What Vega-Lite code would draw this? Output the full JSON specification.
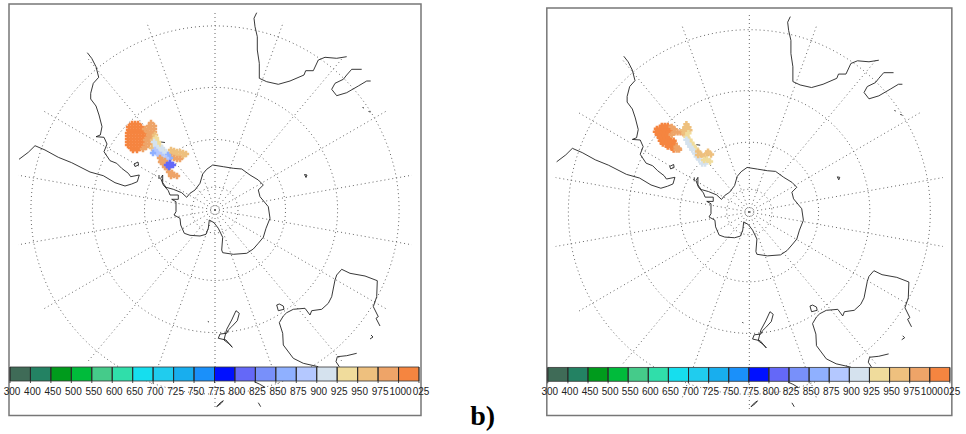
{"$schema":"https://vega.github.io/schema/vega-lite/v6.json","padding":0,"spacing":0,"background":"white","config":{"view":{"stroke":null},"axis":{"disable":true},"concat":{"spacing":0}},
"datasets":{
"frame":[{"x":-206,"x2":206,"y":206,"y2":-205.5}],
"caption":[{"x":-284,"y":-215,"label":"b)"}],
"rings":[
{"lat":-80,"x":0,"y":23},{"lat":-80,"x":7.87,"y":21.62},{"lat":-80,"x":14.79,"y":17.62},{"lat":-80,"x":19.92,"y":11.5},{"lat":-80,"x":22.66,"y":4},{"lat":-80,"x":22.66,"y":-4},{"lat":-80,"x":19.92,"y":-11.5},{"lat":-80,"x":14.79,"y":-17.62},{"lat":-80,"x":7.87,"y":-21.62},{"lat":-80,"x":0,"y":-23},{"lat":-80,"x":-7.87,"y":-21.62},{"lat":-80,"x":-14.79,"y":-17.62},{"lat":-80,"x":-19.92,"y":-11.5},{"lat":-80,"x":-22.66,"y":-4},{"lat":-80,"x":-22.66,"y":4},{"lat":-80,"x":-19.92,"y":11.5},{"lat":-80,"x":-14.79,"y":17.62},{"lat":-80,"x":-7.87,"y":21.62},
{"lat":-60,"x":0,"y":70.5},{"lat":-60,"x":24.11,"y":66.27},{"lat":-60,"x":45.33,"y":54},{"lat":-60,"x":61.05,"y":35.25},{"lat":-60,"x":69.44,"y":12.27},{"lat":-60,"x":69.44,"y":-12.27},{"lat":-60,"x":61.05,"y":-35.25},{"lat":-60,"x":45.33,"y":-54},{"lat":-60,"x":24.11,"y":-66.27},{"lat":-60,"x":0,"y":-70.5},{"lat":-60,"x":-24.11,"y":-66.27},{"lat":-60,"x":-45.33,"y":-54},{"lat":-60,"x":-61.05,"y":-35.25},{"lat":-60,"x":-69.44,"y":-12.27},{"lat":-60,"x":-69.44,"y":12.27},{"lat":-60,"x":-61.05,"y":35.25},{"lat":-60,"x":-45.33,"y":54},{"lat":-60,"x":-24.11,"y":66.27},
{"lat":-40,"x":0,"y":122.6},{"lat":-40,"x":41.93,"y":115.24},{"lat":-40,"x":78.83,"y":93.91},{"lat":-40,"x":106.17,"y":61.3},{"lat":-40,"x":120.76,"y":21.33},{"lat":-40,"x":120.76,"y":-21.33},{"lat":-40,"x":106.17,"y":-61.3},{"lat":-40,"x":78.83,"y":-93.91},{"lat":-40,"x":41.93,"y":-115.24},{"lat":-40,"x":0,"y":-122.6},{"lat":-40,"x":-41.93,"y":-115.24},{"lat":-40,"x":-78.83,"y":-93.91},{"lat":-40,"x":-106.17,"y":-61.3},{"lat":-40,"x":-120.76,"y":-21.33},{"lat":-40,"x":-120.76,"y":21.33},{"lat":-40,"x":-106.17,"y":61.3},{"lat":-40,"x":-78.83,"y":93.91},{"lat":-40,"x":-41.93,"y":115.24},
{"lat":-20,"x":0,"y":184.1},{"lat":-20,"x":62.96,"y":173.05},{"lat":-20,"x":118.38,"y":141.02},{"lat":-20,"x":159.43,"y":92.05},{"lat":-20,"x":181.34,"y":32.03},{"lat":-20,"x":181.34,"y":-32.03},{"lat":-20,"x":159.43,"y":-92.05},{"lat":-20,"x":118.38,"y":-141.02},{"lat":-20,"x":62.96,"y":-173.05},{"lat":-20,"x":0,"y":-184.1},{"lat":-20,"x":-62.96,"y":-173.05},{"lat":-20,"x":-118.38,"y":-141.02},{"lat":-20,"x":-159.43,"y":-92.05},{"lat":-20,"x":-181.34,"y":-32.03},{"lat":-20,"x":-181.34,"y":32.03},{"lat":-20,"x":-159.43,"y":92.05},{"lat":-20,"x":-118.38,"y":141.02},{"lat":-20,"x":-62.96,"y":173.05}
],
"meridians":[
{"lon":0,"x":0,"y":0},{"lon":0,"x":0,"y":200},{"lon":20,"x":0,"y":0},{"lon":20,"x":68.4,"y":188},{"lon":40,"x":0,"y":0},{"lon":40,"x":128.6,"y":153.2},{"lon":60,"x":0,"y":0},{"lon":60,"x":173.2,"y":100},{"lon":80,"x":0,"y":0},{"lon":80,"x":197,"y":34.8},{"lon":100,"x":0,"y":0},{"lon":100,"x":197,"y":-34.8},{"lon":120,"x":0,"y":0},{"lon":120,"x":173.2,"y":-100},{"lon":140,"x":0,"y":0},{"lon":140,"x":128.6,"y":-153.2},{"lon":160,"x":0,"y":0},{"lon":160,"x":68.4,"y":-188},{"lon":180,"x":0,"y":0},{"lon":180,"x":0,"y":-200},{"lon":-160,"x":0,"y":0},{"lon":-160,"x":-68.4,"y":-188},{"lon":-140,"x":0,"y":0},{"lon":-140,"x":-128.6,"y":-153.2},{"lon":-120,"x":0,"y":0},{"lon":-120,"x":-173.2,"y":-100},{"lon":-100,"x":0,"y":0},{"lon":-100,"x":-197,"y":-34.8},{"lon":-80,"x":0,"y":0},{"lon":-80,"x":-197,"y":34.8},{"lon":-60,"x":0,"y":0},{"lon":-60,"x":-173.2,"y":100},{"lon":-40,"x":0,"y":0},{"lon":-40,"x":-128.6,"y":153.2},{"lon":-20,"x":0,"y":0},{"lon":-20,"x":-68.4,"y":188}
],
"bins":[{"bin":"300","x":-205,"x2":-184.55,"y":-157,"y2":-171},{"bin":"400","x":-184.55,"x2":-164.1,"y":-157,"y2":-171},{"bin":"450","x":-164.1,"x2":-143.65,"y":-157,"y2":-171},{"bin":"500","x":-143.65,"x2":-123.2,"y":-157,"y2":-171},{"bin":"550","x":-123.2,"x2":-102.75,"y":-157,"y2":-171},{"bin":"600","x":-102.75,"x2":-82.3,"y":-157,"y2":-171},{"bin":"650","x":-82.3,"x2":-61.85,"y":-157,"y2":-171},{"bin":"700","x":-61.85,"x2":-41.4,"y":-157,"y2":-171},{"bin":"725","x":-41.4,"x2":-20.95,"y":-157,"y2":-171},{"bin":"750","x":-20.95,"x2":-0.5,"y":-157,"y2":-171},{"bin":"775","x":-0.5,"x2":19.95,"y":-157,"y2":-171},{"bin":"800","x":19.95,"x2":40.4,"y":-157,"y2":-171},{"bin":"825","x":40.4,"x2":60.85,"y":-157,"y2":-171},{"bin":"850","x":60.85,"x2":81.3,"y":-157,"y2":-171},{"bin":"875","x":81.3,"x2":101.75,"y":-157,"y2":-171},{"bin":"900","x":101.75,"x2":122.2,"y":-157,"y2":-171},{"bin":"925","x":122.2,"x2":142.65,"y":-157,"y2":-171},{"bin":"950","x":142.65,"x2":163.1,"y":-157,"y2":-171},{"bin":"975","x":163.1,"x2":183.55,"y":-157,"y2":-171},{"bin":"1000","x":183.55,"x2":204,"y":-157,"y2":-171}],
"ticks":[{"label":"300","x":-205,"y":-157,"y2":-173},{"label":"400","x":-184.55,"y":-157,"y2":-173},{"label":"450","x":-164.1,"y":-157,"y2":-173},{"label":"500","x":-143.65,"y":-157,"y2":-173},{"label":"550","x":-123.2,"y":-157,"y2":-173},{"label":"600","x":-102.75,"y":-157,"y2":-173},{"label":"650","x":-82.3,"y":-157,"y2":-173},{"label":"700","x":-61.85,"y":-157,"y2":-173},{"label":"725","x":-41.4,"y":-157,"y2":-173},{"label":"750","x":-20.95,"y":-157,"y2":-173},{"label":"775","x":-0.5,"y":-157,"y2":-173},{"label":"800","x":19.95,"y":-157,"y2":-173},{"label":"825","x":40.4,"y":-157,"y2":-173},{"label":"850","x":60.85,"y":-157,"y2":-173},{"label":"875","x":81.3,"y":-157,"y2":-173},{"label":"900","x":101.75,"y":-157,"y2":-173},{"label":"925","x":122.2,"y":-157,"y2":-173},{"label":"950","x":142.65,"y":-157,"y2":-173},{"label":"975","x":163.1,"y":-157,"y2":-173},{"label":"1000","x":183.55,"y":-157,"y2":-173},{"label":"025","x":204,"y":-157,"y2":-173}],
"coast":[
{"part":"sam","x":-127.7,"y":157.3},{"part":"sam","x":-123.3,"y":151.7},{"part":"sam","x":-119,"y":143.3},{"part":"sam","x":-116.3,"y":132.7},{"part":"sam","x":-121.7,"y":126.7},{"part":"sam","x":-124.3,"y":116.7},{"part":"sam","x":-124.3,"y":111},{"part":"sam","x":-119,"y":104},{"part":"sam","x":-116,"y":95},{"part":"sam","x":-113,"y":83.3},{"part":"sam","x":-114.7,"y":75},{"part":"sam","x":-119,"y":73.3},{"part":"sam","x":-111,"y":72.7},{"part":"sam","x":-108,"y":66},{"part":"sam","x":-111,"y":58.3},{"part":"sam","x":-105,"y":49.3},{"part":"sam","x":-98.3,"y":46.7},{"part":"sam","x":-93.3,"y":41.7},{"part":"sam","x":-86.7,"y":36.7},{"part":"sam","x":-84.3,"y":33.3},{"part":"sam","x":-75.7,"y":35},{"part":"sam","x":-77.7,"y":28.3},{"part":"sam","x":-83.3,"y":26},{"part":"sam","x":-90,"y":24},{"part":"sam","x":-100,"y":27.3},{"part":"sam","x":-111.7,"y":34.3},{"part":"sam","x":-125,"y":38},{"part":"sam","x":-143.3,"y":47.3},{"part":"sam","x":-156.7,"y":52.7},{"part":"sam","x":-170,"y":60},{"part":"sam","x":-180,"y":64.3},{"part":"sam","x":-186.7,"y":57.7},{"part":"sam","x":-196,"y":50.7},
{"part":"falk","x":-81,"y":46},{"part":"falk","x":-77,"y":48},{"part":"falk","x":-76.5,"y":45},{"part":"falk","x":-80,"y":43.5},{"part":"falk","x":-81,"y":46},
{"part":"geo","x":-54,"y":68},{"part":"geo","x":-50,"y":67.5},
{"part":"kerg","x":89.5,"y":35.5},{"part":"kerg","x":92,"y":35},{"part":"kerg","x":91,"y":32.5},{"part":"kerg","x":89.5,"y":35.5},
{"part":"i1","x":147.5,"y":102.5},{"part":"i1","x":149,"y":102},
{"part":"i2","x":153.5,"y":98.5},{"part":"i2","x":155.5,"y":98},
{"part":"i3","x":-7.2,"y":-111.5},{"part":"i3","x":-6,"y":-112},
{"part":"i4","x":156,"y":-125},{"part":"i4","x":158,"y":-127},{"part":"i4","x":155,"y":-129},
{"part":"afr","x":41.7,"y":197.3},{"part":"afr","x":39,"y":191.7},{"part":"afr","x":40,"y":183.3},{"part":"afr","x":42.3,"y":173.3},{"part":"afr","x":42.3,"y":160},{"part":"afr","x":44.3,"y":146.7},{"part":"afr","x":44.3,"y":131.7},{"part":"afr","x":51.7,"y":128.3},{"part":"afr","x":63.3,"y":125.7},{"part":"afr","x":75,"y":129},{"part":"afr","x":89,"y":135},{"part":"afr","x":90.7,"y":139.3},{"part":"afr","x":98.3,"y":139.3},{"part":"afr","x":103.3,"y":150},{"part":"afr","x":110,"y":152.7},{"part":"afr","x":121.7,"y":151.7},{"part":"afr","x":131.7,"y":153.3},
{"part":"mad","x":146.7,"y":140.7},{"part":"mad","x":136.7,"y":140.7},{"part":"mad","x":131.7,"y":135},{"part":"mad","x":128.3,"y":130.7},{"part":"mad","x":120,"y":126.7},{"part":"mad","x":116.7,"y":120.7},{"part":"mad","x":121.7,"y":114.3},{"part":"mad","x":131.7,"y":117.3},{"part":"mad","x":143.3,"y":124},{"part":"mad","x":151.7,"y":129},{"part":"mad","x":155.7,"y":129},
{"part":"ant","x":-52.3,"y":35},{"part":"ant","x":-54.3,"y":31.7},{"part":"ant","x":-51.7,"y":25},{"part":"ant","x":-46.7,"y":19.3},{"part":"ant","x":-45,"y":15},{"part":"ant","x":-36.7,"y":15},{"part":"ant","x":-36.7,"y":10.7},{"part":"ant","x":-43.3,"y":10.7},{"part":"ant","x":-39,"y":8.3},{"part":"ant","x":-39,"y":-1.7},{"part":"ant","x":-41,"y":-5},{"part":"ant","x":-35,"y":-8.3},{"part":"ant","x":-34.3,"y":-15},{"part":"ant","x":-30.7,"y":-23.3},{"part":"ant","x":-25,"y":-25.3},{"part":"ant","x":-15,"y":-26},{"part":"ant","x":-9,"y":-24.3},{"part":"ant","x":-6.7,"y":-18.3},{"part":"ant","x":-5.7,"y":-10},{"part":"ant","x":-1,"y":-12.7},{"part":"ant","x":3.3,"y":-18.3},{"part":"ant","x":7.7,"y":-27.3},{"part":"ant","x":6.7,"y":-40},{"part":"ant","x":7.7,"y":-42.7},{"part":"ant","x":18.3,"y":-44.3},{"part":"ant","x":31.7,"y":-43.3},{"part":"ant","x":38.3,"y":-39},{"part":"ant","x":43.3,"y":-33.3},{"part":"ant","x":48.3,"y":-27.3},{"part":"ant","x":51,"y":-18.3},{"part":"ant","x":55,"y":-8.3},{"part":"ant","x":53.3,"y":3.3},{"part":"ant","x":45,"y":13.3},{"part":"ant","x":43.3,"y":20},{"part":"ant","x":48.3,"y":25},{"part":"ant","x":43.3,"y":30},{"part":"ant","x":35,"y":35},{"part":"ant","x":26.7,"y":41},{"part":"ant","x":18.3,"y":41.7},{"part":"ant","x":8.3,"y":43.3},{"part":"ant","x":-2.3,"y":45},{"part":"ant","x":-8.3,"y":40.7},{"part":"ant","x":-12.3,"y":36},{"part":"ant","x":-15,"y":26.7},{"part":"ant","x":-20,"y":20},{"part":"ant","x":-25,"y":16.7},{"part":"ant","x":-28.3,"y":12.7},{"part":"ant","x":-33.3,"y":17.3},{"part":"ant","x":-41.7,"y":20.7},{"part":"ant","x":-49,"y":22.7},{"part":"ant","x":-52.3,"y":27.3},{"part":"ant","x":-52.3,"y":35},
{"part":"shet","x":-56,"y":35},{"part":"shet","x":-56,"y":31},
{"part":"aus","x":165,"y":-116},{"part":"aus","x":161,"y":-108.3},{"part":"aus","x":163.3,"y":-106.7},{"part":"aus","x":158.3,"y":-96.7},{"part":"aus","x":161.7,"y":-86.7},{"part":"aus","x":162.3,"y":-70.7},{"part":"aus","x":150,"y":-66},{"part":"aus","x":135,"y":-63.3},{"part":"aus","x":126.7,"y":-59.3},{"part":"aus","x":121.7,"y":-65},{"part":"aus","x":120,"y":-70},{"part":"aus","x":116.7,"y":-86.7},{"part":"aus","x":113.3,"y":-93.3},{"part":"aus","x":106.7,"y":-99.3},{"part":"aus","x":96.7,"y":-100.7},{"part":"aus","x":95,"y":-105},{"part":"aus","x":90,"y":-98.3},{"part":"aus","x":78.3,"y":-99.3},{"part":"aus","x":71.7,"y":-102.7},{"part":"aus","x":68.3,"y":-106},{"part":"aus","x":64.3,"y":-112.7},{"part":"aus","x":67.7,"y":-123.3},{"part":"aus","x":68.3,"y":-135},{"part":"aus","x":78.3,"y":-148.3},{"part":"aus","x":88.3,"y":-153.3},{"part":"aus","x":103.3,"y":-156.7},
{"part":"tas","x":61.7,"y":-95},{"part":"tas","x":63.3,"y":-100.7},{"part":"tas","x":69,"y":-99.3},{"part":"tas","x":68.3,"y":-96},{"part":"tas","x":64.3,"y":-94},{"part":"tas","x":61.7,"y":-95},
{"part":"png","x":141.7,"y":-143.3},{"part":"png","x":131.7,"y":-145.7},{"part":"png","x":122.3,"y":-146.7},{"part":"png","x":121,"y":-151.7},{"part":"png","x":124.3,"y":-156.7},
{"part":"nz","x":21,"y":-100.7},{"part":"nz","x":24.3,"y":-103.3},{"part":"nz","x":22.3,"y":-110.7},{"part":"nz","x":16.7,"y":-116.7},{"part":"nz","x":13.3,"y":-120},{"part":"nz","x":11.7,"y":-123.3},{"part":"nz","x":5,"y":-124},{"part":"nz","x":3.3,"y":-128.3},{"part":"nz","x":11,"y":-130},{"part":"nz","x":17.3,"y":-137.3},{"part":"nz","x":14.3,"y":-134},{"part":"nz","x":9,"y":-130},{"part":"nz","x":11.7,"y":-119.3},{"part":"nz","x":16.7,"y":-110},{"part":"nz","x":21,"y":-100.7},
{"part":"low1","x":39.3,"y":-171.7},{"part":"low1","x":44.3,"y":-174},{"part":"low1","x":50,"y":-177.3},
{"part":"low2","x":43.3,"y":-192.7},{"part":"low2","x":45.7,"y":-196.7},
{"part":"low3","x":1.7,"y":-196.7},{"part":"low3","x":5,"y":-193},{"part":"low3","x":8.3,"y":-190.7},{"part":"low3","x":6,"y":-193.5},{"part":"low3","x":1.7,"y":-196.7}
],
"fireA":[
{"x":-83,"y":86,"bin":"1000"},{"x":-80,"y":86,"bin":"1000"},{"x":-77,"y":86,"bin":"1000"},
{"x":-86,"y":83,"bin":"1000"},{"x":-83,"y":83,"bin":"1000"},{"x":-80,"y":83,"bin":"1000"},{"x":-77,"y":83,"bin":"1000"},{"x":-74,"y":83,"bin":"1000"},
{"x":-86,"y":80,"bin":"1000"},{"x":-83,"y":80,"bin":"1000"},{"x":-80,"y":80,"bin":"1000"},{"x":-77,"y":80,"bin":"1000"},{"x":-74,"y":80,"bin":"1000"},{"x":-71,"y":80,"bin":"1000"},
{"x":-87,"y":77,"bin":"1000"},{"x":-84,"y":77,"bin":"1000"},{"x":-81,"y":77,"bin":"1000"},{"x":-78,"y":77,"bin":"1000"},{"x":-75,"y":77,"bin":"1000"},{"x":-72,"y":77,"bin":"1000"},{"x":-69,"y":77,"bin":"1000"},
{"x":-87,"y":74,"bin":"1000"},{"x":-84,"y":74,"bin":"1000"},{"x":-81,"y":74,"bin":"1000"},{"x":-78,"y":74,"bin":"1000"},{"x":-75,"y":74,"bin":"1000"},{"x":-72,"y":74,"bin":"1000"},{"x":-69,"y":74,"bin":"1000"},
{"x":-87,"y":71,"bin":"1000"},{"x":-84,"y":71,"bin":"1000"},{"x":-81,"y":71,"bin":"1000"},{"x":-78,"y":71,"bin":"1000"},{"x":-75,"y":71,"bin":"1000"},{"x":-72,"y":71,"bin":"1000"},
{"x":-87,"y":68,"bin":"1000"},{"x":-84,"y":68,"bin":"1000"},{"x":-81,"y":68,"bin":"1000"},{"x":-78,"y":68,"bin":"1000"},{"x":-75,"y":68,"bin":"1000"},{"x":-72,"y":68,"bin":"1000"},
{"x":-87,"y":65,"bin":"1000"},{"x":-84,"y":65,"bin":"1000"},{"x":-81,"y":65,"bin":"1000"},{"x":-78,"y":65,"bin":"1000"},{"x":-75,"y":65,"bin":"1000"},{"x":-72,"y":65,"bin":"1000"},
{"x":-84,"y":62,"bin":"1000"},{"x":-81,"y":62,"bin":"1000"},{"x":-78,"y":62,"bin":"1000"},{"x":-75,"y":62,"bin":"1000"},{"x":-82,"y":60,"bin":"1000"},{"x":-78,"y":60,"bin":"1000"},
{"x":-64,"y":87,"bin":"975"},{"x":-61,"y":84,"bin":"975"},{"x":-66,"y":84,"bin":"975"},{"x":-64,"y":81,"bin":"975"},{"x":-61,"y":81,"bin":"975"},{"x":-67,"y":81,"bin":"975"},{"x":-70,"y":81,"bin":"975"},{"x":-67,"y":78,"bin":"975"},{"x":-64,"y":78,"bin":"975"},{"x":-61,"y":78,"bin":"975"},{"x":-66,"y":75,"bin":"975"},{"x":-63,"y":75,"bin":"975"},{"x":-67,"y":72,"bin":"975"},{"x":-64,"y":72,"bin":"975"},{"x":-69,"y":70,"bin":"975"},{"x":-66,"y":69,"bin":"975"},{"x":-69,"y":66,"bin":"975"},{"x":-66,"y":66,"bin":"975"},{"x":-69,"y":63,"bin":"975"},{"x":-72,"y":61,"bin":"975"},
{"x":-62,"y":70,"bin":"950"},{"x":-60,"y":66,"bin":"950"},{"x":-63,"y":62,"bin":"950"},{"x":-60,"y":75,"bin":"950"},
{"x":-59,"y":72,"bin":"925"},{"x":-57,"y":68,"bin":"925"},{"x":-55,"y":64,"bin":"925"},{"x":-53,"y":60,"bin":"925"},{"x":-58,"y":64,"bin":"925"},
{"x":-61,"y":68,"bin":"900"},{"x":-59,"y":64,"bin":"900"},{"x":-57,"y":60,"bin":"900"},{"x":-55,"y":56,"bin":"900"},{"x":-53,"y":62,"bin":"900"},{"x":-52,"y":58,"bin":"900"},{"x":-49,"y":58,"bin":"900"},{"x":-50,"y":54,"bin":"900"},
{"x":-60,"y":60,"bin":"875"},{"x":-57,"y":56,"bin":"875"},{"x":-54,"y":55,"bin":"875"},{"x":-58,"y":57,"bin":"875"},{"x":-62,"y":57,"bin":"850"},
{"x":-44,"y":60,"bin":"950"},{"x":-41,"y":59,"bin":"950"},{"x":-38,"y":58,"bin":"950"},{"x":-35,"y":58,"bin":"950"},{"x":-32,"y":57,"bin":"950"},{"x":-29,"y":56,"bin":"950"},{"x":-41,"y":56,"bin":"950"},{"x":-38,"y":55,"bin":"950"},{"x":-35,"y":54,"bin":"950"},{"x":-32,"y":54,"bin":"950"},{"x":-44,"y":57,"bin":"950"},
{"x":-44,"y":53,"bin":"975"},{"x":-41,"y":52,"bin":"975"},{"x":-38,"y":51,"bin":"975"},{"x":-35,"y":51,"bin":"975"},
{"x":-47,"y":55,"bin":"850"},{"x":-45,"y":52,"bin":"850"},{"x":-49,"y":52,"bin":"875"},{"x":-47,"y":49,"bin":"875"},
{"x":-55,"y":52,"bin":"975"},{"x":-53,"y":50,"bin":"975"},{"x":-50,"y":49,"bin":"975"},{"x":-52,"y":47,"bin":"975"},{"x":-49,"y":46,"bin":"975"},{"x":-54,"y":48,"bin":"975"},
{"x":-50,"y":43,"bin":"975"},{"x":-47,"y":41,"bin":"975"},{"x":-46,"y":38,"bin":"975"},{"x":-43,"y":37,"bin":"975"},{"x":-41,"y":35,"bin":"975"},{"x":-38,"y":34,"bin":"975"},{"x":-44,"y":34,"bin":"975"},
{"x":-48,"y":45,"bin":"800"},{"x":-45,"y":45,"bin":"800"},{"x":-42,"y":45,"bin":"800"},{"x":-46,"y":43,"bin":"800"},{"x":-45,"y":47,"bin":"800"}
],
"fireB":[
{"x":-89,"y":87,"bin":"1000"},{"x":-86,"y":87,"bin":"1000"},{"x":-83,"y":87,"bin":"1000"},
{"x":-94,"y":84,"bin":"1000"},{"x":-91,"y":84,"bin":"1000"},{"x":-88,"y":84,"bin":"1000"},{"x":-85,"y":84,"bin":"1000"},{"x":-82,"y":84,"bin":"1000"},{"x":-79,"y":84,"bin":"1000"},
{"x":-95,"y":81,"bin":"1000"},{"x":-92,"y":81,"bin":"1000"},{"x":-89,"y":81,"bin":"1000"},{"x":-86,"y":81,"bin":"1000"},{"x":-83,"y":81,"bin":"1000"},{"x":-80,"y":81,"bin":"1000"},
{"x":-93,"y":78,"bin":"1000"},{"x":-90,"y":78,"bin":"1000"},{"x":-87,"y":78,"bin":"1000"},{"x":-84,"y":78,"bin":"1000"},
{"x":-91,"y":75,"bin":"1000"},{"x":-88,"y":75,"bin":"1000"},{"x":-85,"y":75,"bin":"1000"},{"x":-82,"y":75,"bin":"1000"},
{"x":-90,"y":72,"bin":"1000"},{"x":-87,"y":72,"bin":"1000"},{"x":-84,"y":72,"bin":"1000"},{"x":-80,"y":72,"bin":"1000"},{"x":-77,"y":72,"bin":"1000"},
{"x":-88,"y":69,"bin":"1000"},{"x":-85,"y":69,"bin":"1000"},{"x":-82,"y":69,"bin":"1000"},{"x":-79,"y":69,"bin":"1000"},{"x":-76,"y":69,"bin":"1000"},
{"x":-83,"y":66,"bin":"1000"},{"x":-80,"y":66,"bin":"1000"},{"x":-77,"y":66,"bin":"1000"},
{"x":-77,"y":63,"bin":"1000"},{"x":-74,"y":63,"bin":"975"},{"x":-71.5,"y":63,"bin":"975"},{"x":-74,"y":66,"bin":"975"},{"x":-72,"y":64,"bin":"975"},
{"x":-79,"y":86,"bin":"975"},{"x":-76,"y":83.5,"bin":"975"},{"x":-73,"y":80.5,"bin":"975"},{"x":-76,"y":80.5,"bin":"975"},{"x":-70,"y":80.5,"bin":"975"},{"x":-79,"y":78,"bin":"975"},{"x":-67,"y":79.5,"bin":"975"},
{"x":-64,"y":88.6,"bin":"950"},{"x":-65,"y":85.5,"bin":"950"},{"x":-62,"y":85.5,"bin":"950"},{"x":-67,"y":82.5,"bin":"950"},{"x":-64,"y":82.5,"bin":"950"},{"x":-61,"y":82.5,"bin":"950"},{"x":-66,"y":79.5,"bin":"950"},
{"x":-64,"y":76,"bin":"925"},{"x":-61,"y":73,"bin":"925"},{"x":-62,"y":79.5,"bin":"925"},{"x":-59,"y":70,"bin":"925"},{"x":-57,"y":67,"bin":"925"},{"x":-54.5,"y":64,"bin":"925"},
{"x":-64,"y":73,"bin":"900"},{"x":-62,"y":69,"bin":"900"},{"x":-60,"y":66,"bin":"900"},{"x":-58,"y":63,"bin":"900"},{"x":-55,"y":59,"bin":"900"},{"x":-53.5,"y":56,"bin":"900"},{"x":-51,"y":53,"bin":"900"},{"x":-48,"y":49,"bin":"900"},{"x":-45,"y":49,"bin":"900"},
{"x":-52,"y":61,"bin":"950"},{"x":-49,"y":58,"bin":"950"},{"x":-46,"y":56,"bin":"950"},{"x":-43,"y":59,"bin":"950"},{"x":-42,"y":61,"bin":"950"},{"x":-39,"y":58,"bin":"950"},{"x":-52,"y":57.6,"bin":"950"},
{"x":-43,"y":53,"bin":"925"},{"x":-40,"y":51,"bin":"925"},{"x":-46,"y":52.5,"bin":"925"}
]},
"hconcat":[
{"width":466,"height":434,"encoding":{"x":{"field":"x","type":"quantitative","scale":{"domain":[-215,251],"nice":false,"zero":false}},"y":{"field":"y","type":"quantitative","scale":{"domain":[-224,210],"nice":false,"zero":false}}},
"layer":[
{"data":{"name":"rings"},"mark":{"type":"line","interpolate":"cardinal-closed","stroke":"#666666","strokeWidth":1,"strokeDash":[1,3]},"encoding":{"detail":{"field":"lat"},"order":{"value":null}}},
{"data":{"name":"meridians"},"mark":{"type":"line","stroke":"#666666","strokeWidth":1,"strokeDash":[1,3]},"encoding":{"detail":{"field":"lon"},"order":{"value":null}}},
{"data":{"name":"coast"},"mark":{"type":"line","stroke":"#222222","strokeWidth":0.9},"encoding":{"detail":{"field":"part"},"order":{"value":null}}},
{"data":{"name":"fireA"},"mark":{"type":"point","shape":"cross","filled":true,"size":40,"opacity":1},"encoding":{"color":{"field":"bin","type":"nominal","legend":null,"scale":{"domain":["300","400","450","500","550","600","650","700","725","750","775","800","825","850","875","900","925","950","975","1000"],"range":["#3F6B57","#238263","#009B1C","#00BB3B","#45CB8A","#30DEAA","#16DEEE","#20CCEE","#18AEEE","#1A90FA","#0010FF","#6468F8","#7890FA","#8FB0FF","#B4C8FF","#D5E2EE","#F0DC9C","#EEC07E","#EEA468","#F58540"]}}}},
{"data":{"name":"frame"},"mark":{"type":"rect","fill":null,"stroke":"#777777","strokeWidth":1.5},"encoding":{"x2":{"field":"x2"},"y2":{"field":"y2"}}},
{"data":{"name":"bins"},"mark":{"type":"rect","stroke":"#333333","strokeWidth":0.8},"encoding":{"x2":{"field":"x2"},"y2":{"field":"y2"},"color":{"field":"bin","type":"nominal","legend":null,"scale":{"domain":["300","400","450","500","550","600","650","700","725","750","775","800","825","850","875","900","925","950","975","1000"],"range":["#3F6B57","#238263","#009B1C","#00BB3B","#45CB8A","#30DEAA","#16DEEE","#20CCEE","#18AEEE","#1A90FA","#0010FF","#6468F8","#7890FA","#8FB0FF","#B4C8FF","#D5E2EE","#F0DC9C","#EEC07E","#EEA468","#F58540"]}}}},
{"data":{"name":"ticks"},"mark":{"type":"rule","stroke":"#222222","strokeWidth":0.8},"encoding":{"y2":{"field":"y2"}}},
{"data":{"name":"ticks"},"mark":{"type":"text","font":"Liberation Sans","fontSize":10,"fill":"#222222","dx":2,"align":"center","baseline":"middle"},"encoding":{"y":{"datum":-182},"text":{"field":"label"}}}
]},
{"width":500,"height":434,"encoding":{"x":{"field":"x","type":"quantitative","scale":{"domain":[-288.2,220.4],"nice":false,"zero":false}},"y":{"field":"y","type":"quantitative","scale":{"domain":[-224.2,214.1],"nice":false,"zero":false}}},
"layer":[
{"data":{"name":"rings"},"mark":{"type":"line","interpolate":"cardinal-closed","stroke":"#666666","strokeWidth":1,"strokeDash":[1,3]},"encoding":{"detail":{"field":"lat"},"order":{"value":null}}},
{"data":{"name":"meridians"},"mark":{"type":"line","stroke":"#666666","strokeWidth":1,"strokeDash":[1,3]},"encoding":{"detail":{"field":"lon"},"order":{"value":null}}},
{"data":{"name":"coast"},"mark":{"type":"line","stroke":"#222222","strokeWidth":0.9},"encoding":{"detail":{"field":"part"},"order":{"value":null}}},
{"data":{"name":"fireB"},"mark":{"type":"point","shape":"cross","filled":true,"size":40,"opacity":1},"encoding":{"color":{"field":"bin","type":"nominal","legend":null,"scale":{"domain":["300","400","450","500","550","600","650","700","725","750","775","800","825","850","875","900","925","950","975","1000"],"range":["#3F6B57","#238263","#009B1C","#00BB3B","#45CB8A","#30DEAA","#16DEEE","#20CCEE","#18AEEE","#1A90FA","#0010FF","#6468F8","#7890FA","#8FB0FF","#B4C8FF","#D5E2EE","#F0DC9C","#EEC07E","#EEA468","#F58540"]}}}},
{"data":{"name":"frame"},"mark":{"type":"rect","fill":null,"stroke":"#777777","strokeWidth":1.5},"encoding":{"x2":{"field":"x2"},"y2":{"field":"y2"}}},
{"data":{"name":"bins"},"mark":{"type":"rect","stroke":"#333333","strokeWidth":0.8},"encoding":{"x2":{"field":"x2"},"y2":{"field":"y2"},"color":{"field":"bin","type":"nominal","legend":null,"scale":{"domain":["300","400","450","500","550","600","650","700","725","750","775","800","825","850","875","900","925","950","975","1000"],"range":["#3F6B57","#238263","#009B1C","#00BB3B","#45CB8A","#30DEAA","#16DEEE","#20CCEE","#18AEEE","#1A90FA","#0010FF","#6468F8","#7890FA","#8FB0FF","#B4C8FF","#D5E2EE","#F0DC9C","#EEC07E","#EEA468","#F58540"]}}}},
{"data":{"name":"ticks"},"mark":{"type":"rule","stroke":"#222222","strokeWidth":0.8},"encoding":{"y2":{"field":"y2"}}},
{"data":{"name":"ticks"},"mark":{"type":"text","font":"Liberation Sans","fontSize":10,"fill":"#222222","dx":2,"align":"center","baseline":"middle"},"encoding":{"y":{"datum":-182},"text":{"field":"label"}}},
{"data":{"name":"caption"},"mark":{"type":"text","font":"Liberation Serif","fontWeight":"bold","fontSize":28,"fill":"#000000","align":"left","baseline":"alphabetic"},"encoding":{"text":{"field":"label"}}}
]}
]}
